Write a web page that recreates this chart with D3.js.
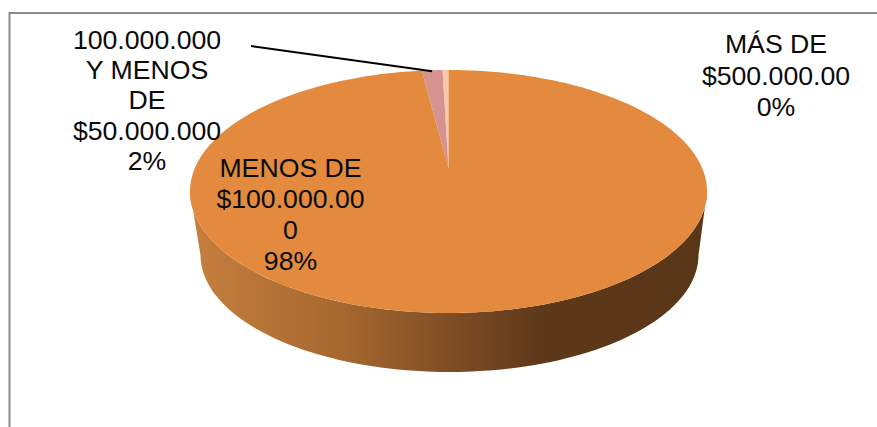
<!DOCTYPE html>
<html><head><meta charset="utf-8">
<script src="https://cdnjs.cloudflare.com/ajax/libs/d3/7.8.5/d3.min.js"></script>
<style>html,body{margin:0;padding:0;background:#fff}svg{display:block}text{font-family:"Liberation Sans",Arial,sans-serif;font-size:26.67px;fill:#0a0a0a;text-anchor:middle}</style>
</head><body><svg id="c" width="877" height="427"></svg>
<script>
const categories = ["MÁS DE $500.000.00", "100.000.000 Y MENOS DE $50.000.000", "MENOS DE $100.000.000"];
const shares = [0.45, 1.55, 98.0];
const sliceColors = ["#f7c9ab", "#d59290", "#e38a3f"];
const labelLines = [["MÁS DE", "$500.000.00"], ["100.000.000", "Y MENOS", "DE", "$50.000.000"], ["MENOS DE", "$100.000.00", "0"]];

const svg = d3.select("#c");
// chart frame (open at right and bottom, cropped by the picture)
svg.append("path").attr("d", "M9.5,427V13H877").attr("fill", "none").attr("stroke", "#8c8c8c").attr("stroke-width", 2);

// top face geometry
const cx = 448.5, cy = 191.5, rx = 258.5, ry = 121.5, apexY = 168;
const a = (apexY - cy) / ry;
const sx = d3.scaleLinear().domain([-1, 1]).range([cx - rx, cx + rx]);
const sy = d3.scaleLinear().domain([-1, 1]).range([cy - ry, cy + ry]);
// perspective tilt of a disc point: the disc centre lands on the apex
function tilt(u, v) {
  const d = 1 + a * v;
  return [sx(u * Math.sqrt(1 - a * a) / d), sy((v + a) / d)];
}
const rim = t => tilt(-Math.sin(t), -Math.cos(t)); // counter-clockwise from 12 o'clock
const line = d3.line();
const pie = d3.pie().value(d => d).sort(null);
const arcs = pie(shares);

// side wall
const defs = svg.append("defs");
const grad = defs.append("linearGradient").attr("id", "side").attr("gradientUnits", "userSpaceOnUse")
  .attr("x1", 190).attr("x2", 707).attr("y1", 0).attr("y2", 0);
[[0, "#c67f3e"], [0.3, "#a5672f"], [0.5, "#7f4e25"], [0.68, "#5d3819"], [1, "#5a3618"]]
  .forEach(s => grad.append("stop").attr("offset", s[0]).attr("stop-color", s[1]));
const botCx = 449.5, botRx = 249, botCy = 255, botRy = 117;
const upper = d3.range(0, 181, 2).map(d => {
  const t = d * Math.PI / 180;
  return [cx + rx * Math.cos(t), cy + ry * Math.sin(t)];
});
const lower = d3.range(180, -1, -2).map(d => {
  const t = d * Math.PI / 180;
  return [botCx + botRx * Math.cos(t), botCy + botRy * Math.sin(t)];
});
svg.append("path").attr("d", line(upper.concat(lower)) + "Z").attr("fill", "url(#side)");

// top face slices
svg.append("g").selectAll("path").data(arcs).join("path")
  .attr("fill", (d, i) => sliceColors[i])
  .attr("d", d => {
    const n = Math.max(2, Math.ceil((d.endAngle - d.startAngle) / 0.02));
    const pts = d3.range(n + 1).map(k => rim(d.startAngle + (d.endAngle - d.startAngle) * k / n));
    return line([[cx, apexY], ...pts]) + "Z";
  });

// leader line
const mid = rim((arcs[1].startAngle + arcs[1].endAngle) / 2);
svg.append("path").attr("d", line([[251, 46], [mid[0], mid[1] + 1]])).attr("fill", "none").attr("stroke", "#000").attr("stroke-width", 2);

// labels
const anchors = [[776, 53.3, 31.4], [147, 48.7, 30.3], [290.5, 177, 31]];
const g = svg.append("g");
labelLines.forEach((ls, i) => {
  const all = ls.concat(Math.round(shares[i]) + "%");
  const t = g.append("text").attr("aria-label", categories[i]);
  all.forEach((s, j) => t.append("tspan").attr("x", anchors[i][0]).attr("y", anchors[i][1] + j * anchors[i][2]).text(s));
});
</script></body></html>
